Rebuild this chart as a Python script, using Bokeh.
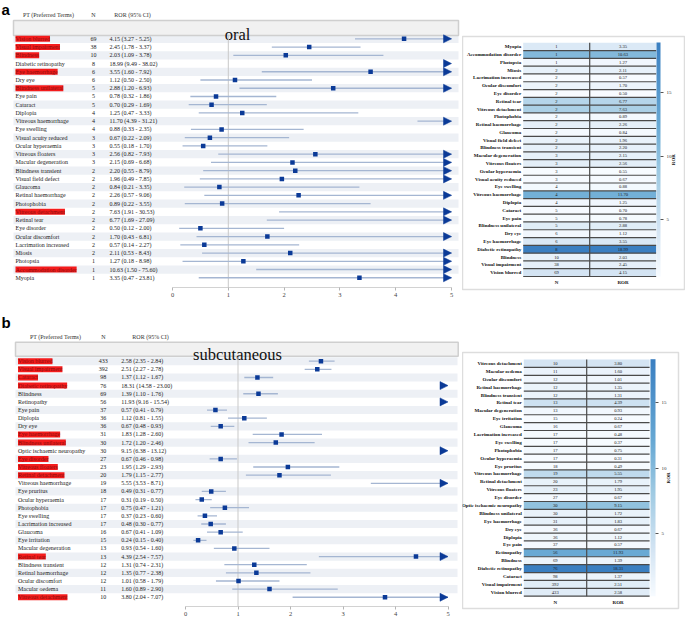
import math
from bokeh.plotting import figure
from bokeh.layouts import row, column
from bokeh.models import (ColumnDataSource, Range1d, LinearAxis, FixedTicker, ColorBar,
                          LinearColorMapper, Arrow, NormalHead)
from bokeh.core.properties import value
from bokeh.embed import file_html
from bokeh.resources import INLINE

# ---------------- data: panel a (oral) ----------------
oral_terms = ["Vision blurred", "Visual impairment", "Blindness", "Diabetic retinopathy",
              "Eye haemorrhage", "Dry eye", "Blindness unilateral", "Eye pain", "Cataract",
              "Diplopia", "Vitreous haemorrhage", "Eye swelling", "Visual acuity reduced",
              "Ocular hyperaemia", "Vitreous floaters", "Macular degeneration",
              "Blindness transient", "Visual field defect", "Glaucoma", "Retinal haemorrhage",
              "Photophobia", "Vitreous detachment", "Retinal tear", "Eye disorder",
              "Ocular discomfort", "Lacrimation increased", "Miosis", "Photopsia",
              "Accommodation disorder", "Myopia"]
oral_n = [69, 38, 10, 8, 6, 6, 5, 5, 5, 4, 4, 4, 3, 3, 3, 3, 2, 2, 2, 2, 2, 2, 2, 2, 2, 2, 2, 1, 1, 1]
oral_ror = [4.15, 2.45, 2.03, 18.99, 3.55, 1.12, 2.88, 0.78, 0.70, 1.25, 11.70, 0.88, 0.67, 0.55,
            2.56, 2.15, 2.20, 1.96, 0.84, 2.26, 0.89, 7.63, 6.77, 0.50, 1.70, 0.57, 2.11, 1.27,
            10.63, 3.35]
oral_lo = [3.27, 1.78, 1.09, 9.49, 1.60, 0.50, 1.20, 0.32, 0.29, 0.47, 4.39, 0.33, 0.22, 0.18,
           0.82, 0.69, 0.55, 0.49, 0.21, 0.57, 0.22, 1.91, 1.69, 0.12, 0.43, 0.14, 0.53, 0.18,
           1.50, 0.47]
oral_hi = [5.25, 3.37, 3.78, 38.02, 7.92, 2.50, 6.93, 1.86, 1.69, 3.33, 31.21, 2.35, 2.09, 1.70,
           7.93, 6.68, 8.79, 7.85, 3.35, 9.06, 3.55, 30.53, 27.09, 2.00, 6.81, 2.27, 8.43, 8.98,
           75.60, 23.81]
oral_marked = ["Vision blurred", "Visual impairment", "Blindness", "Eye haemorrhage",
               "Blindness unilateral", "Vitreous detachment", "Accommodation disorder"]

# ---------------- data: panel b (subcutaneous) ----------------
sc_terms = ["Vision blurred", "Visual impairment", "Cataract", "Diabetic retinopathy", "Blindness",
            "Retinopathy", "Eye pain", "Diplopia", "Dry eye", "Eye haemorrhage",
            "Blindness unilateral", "Optic ischaemic neuropathy", "Eye disorder",
            "Vitreous floaters", "Retinal detachment", "Vitreous haemorrhage", "Eye pruritus",
            "Ocular hyperaemia", "Photophobia", "Eye swelling", "Lacrimation increased",
            "Glaucoma", "Eye irritation", "Macular degeneration", "Retinal tear",
            "Blindness transient", "Retinal haemorrhage", "Ocular discomfort", "Macular oedema",
            "Vitreous detachment"]
sc_n = [433, 392, 98, 76, 69, 56, 37, 36, 36, 31, 30, 30, 27, 23, 20, 19, 18, 17, 17, 17, 17, 16,
        15, 13, 13, 12, 12, 12, 11, 10]
sc_ror = [2.58, 2.51, 1.37, 18.31, 1.39, 11.93, 0.57, 1.12, 0.67, 1.83, 1.72, 9.15, 0.67, 1.95,
          1.79, 5.55, 0.49, 0.31, 0.75, 0.37, 0.48, 0.67, 0.24, 0.93, 4.39, 1.31, 1.35, 1.01,
          1.60, 3.80]
sc_lo = [2.35, 2.27, 1.12, 14.58, 1.10, 9.16, 0.41, 0.81, 0.48, 1.28, 1.20, 6.38, 0.46, 1.29,
         1.15, 3.53, 0.31, 0.19, 0.47, 0.23, 0.30, 0.41, 0.15, 0.54, 2.54, 0.74, 0.77, 0.58,
         0.89, 2.04]
sc_hi = [2.84, 2.78, 1.67, 23.00, 1.76, 15.54, 0.79, 1.55, 0.93, 2.60, 2.46, 13.12, 0.98, 2.93,
         2.77, 8.71, 0.77, 0.50, 1.21, 0.60, 0.77, 1.09, 0.40, 1.60, 7.57, 2.31, 2.38, 1.79,
         2.90, 7.07]
sc_marked = ["Vision blurred", "Visual impairment", "Cataract", "Diabetic retinopathy",
             "Eye haemorrhage", "Blindness unilateral", "Eye disorder", "Vitreous floaters",
             "Retinal detachment", "Retinal tear", "Vitreous detachment"]

x_ticks = [0, 1, 2, 3, 4, 5]
x_cap = 5
bar_ticks = [5, 10, 15]
headers = ["PT (Preferred Terms)", "N", "ROR (95% CI)"]
heat_cols = ["N", "ROR"]

# ---------------- style ----------------
SERIF = value("Liberation Serif")
SANS = value("Liberation Sans")
STRIPE = "#edf0f5"
CI_COL = "#a5b6d2"
PT_COL = "#0b3a97"
RED = "#f41c1c"


def make_palette(anchors, n=256):
    def h2rgb(h):
        return tuple(int(h[i:i + 2], 16) for i in (1, 3, 5))
    out = []
    for k in range(n):
        t = k / (n - 1)
        for (p0, c0), (p1, c1) in zip(anchors[:-1], anchors[1:]):
            if p0 <= t <= p1:
                u = (t - p0) / (p1 - p0) if p1 > p0 else 0
                a, b = h2rgb(c0), h2rgb(c1)
                out.append("#%02x%02x%02x" % tuple(int(round(a[i] + (b[i] - a[i]) * u)) for i in range(3)))
                break
    return out


PAL = make_palette([(0.0, "#f7fbff"), (0.2, "#d3e4f3"), (0.45, "#9dc9e2"),
                    (0.65, "#68a9d4"), (1.0, "#3a7fc1")])


def forest_panel(letter, title, terms, n, ror, lo, hi, marked, g):
    W, H, fh = g["W"], g["H"], g["fh"]
    ppu, x0, r0, pitch = g["ppu"], g["x0"], g["r0"], g["pitch"]
    ybot = (fh - r0) / pitch
    p = figure(width=W, height=H, output_backend="svg", toolbar_location=None, title=None,
               x_range=Range1d(-x0 / ppu, (W - x0) / ppu),
               y_range=Range1d(ybot, -r0 / pitch),
               x_axis_type=None, y_axis_type=None,
               min_border_left=0, min_border_right=0, min_border_top=0,
               min_border_bottom=H - fh)
    p.frame_align = False
    p.outline_line_color = None
    p.extra_x_ranges = {"px": Range1d(0, W)}
    p.extra_y_ranges = {"px": Range1d(fh, 0)}
    k = len(terms)
    idx = list(range(k))

    # stripes
    ev = [i for i in idx if i % 2 == 0]
    p.quad(left=g["sl"], right=g["sr"], top=[i - 0.5 for i in ev], bottom=[i + 0.5 for i in ev],
           x_range_name="px", fill_color=STRIPE, line_color=None)
    # title band
    tb = g["tbox"]
    p.quad(left=[tb[0]], right=[tb[1]], top=[tb[2]], bottom=[tb[3]], x_range_name="px",
           y_range_name="px", fill_color="#f1f1f1", line_color="#cfcfcf", line_width=1.5)
    p.text(x=[g["tx"]], y=[g["ty"]], text=[title], x_range_name="px", y_range_name="px",
           text_font=SERIF, text_font_size="16.5px", text_align="center",
           text_baseline="alphabetic", text_color="#111111")
    # headers
    hx = g["hx"]
    p.text(x=hx, y=[g["hy"]] * 3, text=headers, x_range_name="px", y_range_name="px",
           text_font=SERIF, text_font_size="6px", text_align="center", text_baseline="middle",
           text_color="#333333")
    # panel letter
    p.text(x=[1], y=[g["ly"]], text=[letter], x_range_name="px", y_range_name="px",
           text_font=SANS, text_font_style="bold", text_font_size="15px",
           text_baseline="alphabetic", text_color="#000000")

    # reference line
    p.segment(x0=[1], y0=[-0.5], x1=[1], y1=[ybot], line_color="#c9c9c9", line_width=1)

    # CI lines (capped at axis limit)
    seg = ColumnDataSource(dict(y=idx, x0=[min(v, x_cap) for v in lo],
                                x1=[min(v, x_cap) for v in hi]))
    p.segment(x0="x0", y0="y", x1="x1", y1="y", source=seg, line_color=CI_COL, line_width=1.3)
    # arrow heads for CIs beyond the limit
    over = [i for i in idx if hi[i] > x_cap]
    asrc = ColumnDataSource(dict(y=[i for i in over], xs=[x_cap - 0.05] * len(over),
                                 xe=[x_cap] * len(over)))
    p.add_layout(Arrow(end=NormalHead(size=8, fill_color=PT_COL, line_color=PT_COL, line_width=0.5),
                       x_start="xs", y_start="y", x_end="xe", y_end="y", source=asrc,
                       line_alpha=0))
    # points
    inr = [i for i in idx if ror[i] <= x_cap]
    psrc = ColumnDataSource(dict(x=[ror[i] for i in inr], y=inr))
    p.scatter(x="x", y="y", source=psrc, marker="square", size=4.5, fill_color=PT_COL,
              line_color=None)

    # table text
    plain = [i for i in idx if terms[i] not in marked]
    red = [i for i in idx if terms[i] in marked]
    p.text(x=g["nx"], y=plain, text=[terms[i] for i in plain], x_range_name="px",
           text_font=SERIF, text_font_size="6px", text_baseline="middle", text_color="#222222")
    p.text(x=g["nx"], y=red, text=[terms[i] for i in red], x_range_name="px",
           text_font=SERIF, text_font_size="6px", text_baseline="middle", text_color="#8a0c0c",
           background_fill_color=RED)
    p.text(x=g["cx"], y=idx, text=[str(v) for v in n], x_range_name="px", text_font=SERIF,
           text_font_size="6px", text_baseline="middle", text_align="center",
           text_color="#222222")
    ci = ["%.2f (%.2f - %.2f)" % (ror[i], lo[i], hi[i]) for i in idx]
    p.text(x=g["rx"], y=idx, text=ci, x_range_name="px", text_font=SERIF,
           text_font_size="6px", text_baseline="middle", text_color="#222222")

    ax = LinearAxis(bounds=(0, x_cap), ticker=FixedTicker(ticks=x_ticks))
    ax.axis_line_color = "#d2d2d2"
    ax.major_tick_line_color = "#b5b5b5"
    ax.major_tick_out = 3
    ax.major_tick_in = 0
    ax.minor_tick_line_color = None
    ax.major_label_text_font = "Liberation Serif"
    ax.major_label_text_font_size = "6.5px"
    ax.major_label_text_color = "#444444"
    ax.major_label_standoff = 2
    p.add_layout(ax, "below")
    return p


def heat_panel(terms, n, ror, g):
    W, H = g["W"], g["H"]
    top, bot, rb = g["top"], g["bot"], g["rb"]
    fw, fh = W - rb, H - top - bot
    cw, tl, pitch, rc = g["cw"], g["tl"], g["pitch"], g["rc"]
    xs = -0.5 - tl / cw
    ys = -rc / pitch
    p = figure(width=W, height=H, output_backend="svg", toolbar_location=None, title=None,
               x_range=Range1d(xs, xs + fw / cw), y_range=Range1d(ys, ys + fh / pitch),
               x_axis_type=None, y_axis_type=None,
               min_border_left=0, min_border_right=rb, min_border_top=top,
               min_border_bottom=bot)
    p.frame_align = False
    p.outline_line_color = "#dddddd"
    p.outline_line_width = 1.5
    k = len(terms)
    mapper = LinearColorMapper(palette=PAL, low=min(ror), high=max(ror))
    src = ColumnDataSource(dict(y=list(range(k)), term=terms, n=[str(v) for v in n],
                                rs=["%.2f" % v for v in ror], ror=ror))
    for cxv in (0, 1):
        p.rect(x=cxv, y="y", width=1, height=1, source=src,
               fill_color={"field": "ror", "transform": mapper}, line_color=None)
    p.segment(x0=[-0.5] * k, x1=[1.5] * k, y0=[i - 0.5 for i in range(k)],
              y1=[i - 0.5 for i in range(k)], line_color="#4a4a4a", line_width=1.2)
    p.segment(x0=[0.5], x1=[0.5], y0=[-0.5], y1=[k - 0.5], line_color="#4a4a4a", line_width=1.2)
    p.text(x=-0.5, y="y", text="term", source=src, x_offset=-2, text_align="right",
           text_baseline="middle", text_font=SERIF, text_font_style="bold",
           text_font_size="5px", text_color="#111111")
    p.text(x=0, y="y", text="n", source=src, text_align="center", text_baseline="middle",
           text_font=SERIF, text_font_size="4.6px", text_color="#222222")
    p.text(x=1, y="y", text="rs", source=src, text_align="center", text_baseline="middle",
           text_font=SERIF, text_font_size="4.6px", text_color="#222222")
    p.text(x=[0, 1], y=[-0.5, -0.5], text=heat_cols, y_offset=6, text_align="center",
           text_baseline="middle", text_font=SERIF, text_font_style="bold",
           text_font_size="5px", text_color="#111111")
    p.text(x=[1.5], y=[(k - 1) / 2], text=["ROR"], x_offset=g["lab"], angle=math.pi / 2,
           text_align="center", text_baseline="middle", text_font=SERIF,
           text_font_style="bold", text_font_size="5px", text_color="#111111")
    cb = ColorBar(color_mapper=mapper, location=(g["cbx"], g["cby"]), orientation="vertical",
                  width=g["cbw"], height=g["cbh"], padding=0, margin=0,
                  ticker=FixedTicker(ticks=bar_ticks), major_tick_out=3, major_tick_in=0,
                  major_tick_line_color="#555555", minor_tick_line_color=None,
                  major_label_text_font="Liberation Serif", major_label_text_font_size="5px",
                  major_label_text_color="#333333", label_standoff=3,
                  bar_line_color=None, border_line_color=None, background_fill_alpha=0)
    p.add_layout(cb, "center")
    return p


ga = dict(W=462, H=305, fh=287, ppu=55.8, x0=172, r0=38.3, pitch=8.24, sl=13, sr=458,
          tbox=(13, 458, 20, 35), tx=237, ty=34, hx=[48, 93, 132], hy=14, ly=9,
          nx=15, cx=93, rx=109)
gb = dict(W=462, H=313, fh=301, ppu=52.5, x0=185, r0=55.7, pitch=8.14, sl=15, sr=457,
          tbox=(15, 457.7, 36.7, 50.7), tx=237, ty=49.3, hx=[55, 103, 150], hy=31.7, ly=17,
          nx=17.5, cx=102.7, rx=120.7)
ha = dict(W=223, H=305, top=36, bot=16, rb=0, cw=66.5, tl=60.7, pitch=7.79, rc=16.9,
          lab=17.3, cbx=194, cby=13, cbw=4, cbh=234)
hb = dict(W=223, H=313, top=47, bot=10, rb=7, cw=62.9, tl=61.3, pitch=7.89, rc=16.25,
          lab=19, cbx=188, cby=12.3, cbw=5, cbh=237)

fa = forest_panel("a", "oral", oral_terms, oral_n, oral_ror, oral_lo, oral_hi, oral_marked, ga)
pa = heat_panel(oral_terms, oral_n, oral_ror, ha)
fb = forest_panel("b", "subcutaneous", sc_terms, sc_n, sc_ror, sc_lo, sc_hi, sc_marked, gb)
pb = heat_panel(sc_terms, sc_n, sc_ror, hb)

layout = column(row(fa, pa, spacing=0), row(fb, pb, spacing=0), spacing=0)
open("out.html", "w").write(file_html(layout, INLINE, title="ROR"))
